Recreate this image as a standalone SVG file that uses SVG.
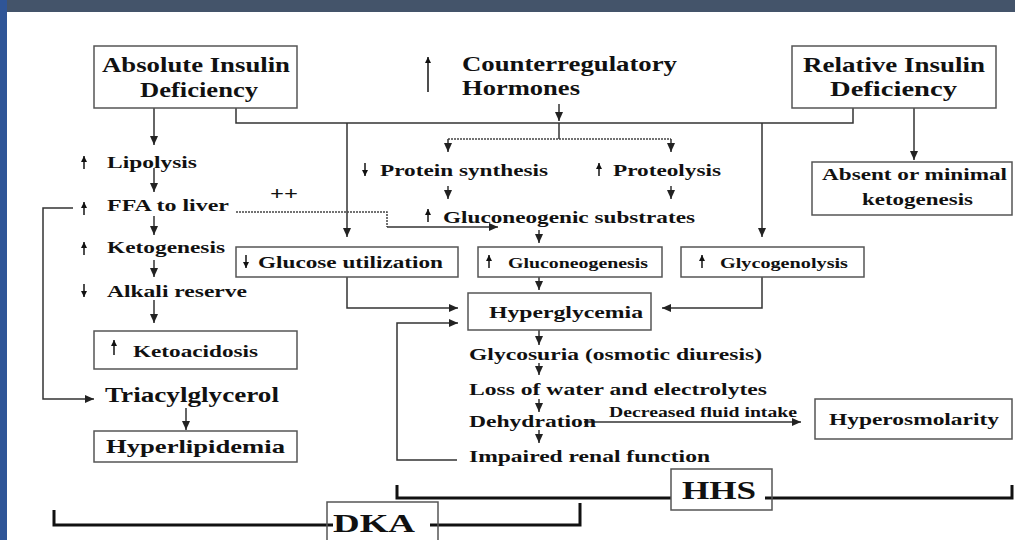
<svg xmlns="http://www.w3.org/2000/svg" width="1015" height="540" viewBox="0 0 1015 540">
<defs>
<style>
text{font-family:"Liberation Serif","Times New Roman",serif;font-weight:bold;fill:#111;}
.t17{font-size:17px;}
.t15{font-size:15px;}
.t21{font-size:21px;}
.box{fill:none;stroke:#555;stroke-width:1.5;}
.c{fill:none;stroke:#333;stroke-width:1.5;}
.d{fill:none;stroke:#444;stroke-width:1.5;stroke-dasharray:2,1;}
.s{fill:none;stroke:#222;stroke-width:1.6;}
.br{fill:none;stroke:#111;stroke-width:3;}
</style>
<marker id="ah" markerUnits="userSpaceOnUse" markerWidth="10" markerHeight="10" refX="9" refY="4" orient="auto">
<path d="M0,0 L9,4 L0,8 z" fill="#222"/>
</marker>
<marker id="sh" markerUnits="userSpaceOnUse" markerWidth="8" markerHeight="8" refX="6" refY="3" orient="auto">
<path d="M0,0 L6,3 L0,6 z" fill="#111"/>
</marker>
</defs>
<rect x="0" y="0" width="1015" height="540" fill="#fff"/>
<rect x="0" y="0" width="1015" height="12" fill="#44546a"/>
<rect x="0" y="0" width="7" height="540" fill="#2f5597"/>

<g id="connectors">
<path class="c" d="M154,108 V145" marker-end="url(#ah)"/>
<path class="c" d="M154,168 V192" marker-end="url(#ah)"/>
<path class="c" d="M154,216 V235" marker-end="url(#ah)"/>
<path class="c" d="M154,260 V277" marker-end="url(#ah)"/>
<path class="c" d="M154,300 V323" marker-end="url(#ah)"/>
<path class="c" d="M73,208 H43 V399 H94" marker-end="url(#ah)"/>
<path class="c" d="M186,408 V430" marker-end="url(#ah)"/>
<path class="c" d="M236,108 V123 H853 V108"/>
<path class="c" d="M347,123 V237" marker-end="url(#ah)"/>
<path class="c" d="M762,123 V237" marker-end="url(#ah)"/>
<path class="c" d="M559,104 V121" marker-end="url(#ah)"/>
<path class="c" d="M559,123 V139"/>
<path class="d" d="M448,139 H671"/>
<path class="c" d="M448,139 V152" marker-end="url(#ah)"/>
<path class="c" d="M671,139 V152" marker-end="url(#ah)"/>
<path class="c" d="M448,186 V199" marker-end="url(#ah)"/>
<path class="c" d="M671,186 V199" marker-end="url(#ah)"/>
<path class="d" d="M236,212 H387 V227"/>
<path class="c" d="M387,227 H498" marker-end="url(#ah)"/>
<path class="c" d="M539,230 V243" marker-end="url(#ah)"/>
<path class="c" d="M539,277 V290" marker-end="url(#ah)"/>
<path class="c" d="M347,277 V308 H458" marker-end="url(#ah)"/>
<path class="c" d="M762,277 V308 H662" marker-end="url(#ah)"/>
<path class="c" d="M457,460 H397 V323 H458" marker-end="url(#ah)"/>
<path class="c" d="M539,330 V345" marker-end="url(#ah)"/>
<path class="c" d="M539,363 V375" marker-end="url(#ah)"/>
<path class="c" d="M539,399 V412" marker-end="url(#ah)"/>
<path class="c" d="M539,430 V443" marker-end="url(#ah)"/>
<path class="c" d="M584,422 H801" marker-end="url(#ah)"/>
<path class="c" d="M914,108 V160" marker-end="url(#ah)"/>
<path class="br" d="M54,510 V525 H333 M430,525 H580 V503"/>
<path class="br" d="M397,485 V498 H671 M765,498 H1012 V485"/>
</g>

<g id="symbols">
<path class="s" d="M428,92 V57" marker-end="url(#sh)"/>
<path class="s" d="M84,169 V156" marker-end="url(#sh)"/>
<path class="s" d="M84,215 V202" marker-end="url(#sh)"/>
<path class="s" d="M84,255 V242" marker-end="url(#sh)"/>
<path class="s" d="M84,284 V297" marker-end="url(#sh)"/>
<path class="s" d="M114,355 V340" marker-end="url(#sh)"/>
<path class="s" d="M365,163 V176" marker-end="url(#sh)"/>
<path class="s" d="M599,176 V163" marker-end="url(#sh)"/>
<path class="s" d="M428,222 V209" marker-end="url(#sh)"/>
<path class="s" d="M246,255 V268" marker-end="url(#sh)"/>
<path class="s" d="M489,268 V255" marker-end="url(#sh)"/>
<path class="s" d="M702,268 V255" marker-end="url(#sh)"/>
</g>

<g id="absolute">
<rect class="box" x="94" y="46" width="203" height="62"/>
<text class="t21" x="102" y="72" textLength="188" lengthAdjust="spacingAndGlyphs">Absolute Insulin</text>
<text class="t21" x="140" y="97" textLength="118" lengthAdjust="spacingAndGlyphs">Deficiency</text>
</g>
<g id="counter">
<text style="font-size:20px" x="462" y="71" textLength="215" lengthAdjust="spacingAndGlyphs">Counterregulatory</text>
<text style="font-size:20px" x="462" y="95" textLength="118" lengthAdjust="spacingAndGlyphs">Hormones</text>
</g>
<g id="relative">
<rect class="box" x="792" y="46" width="204" height="62"/>
<text class="t21" x="803" y="72" textLength="182" lengthAdjust="spacingAndGlyphs">Relative Insulin</text>
<text class="t21" x="830" y="96" textLength="127" lengthAdjust="spacingAndGlyphs">Deficiency</text>
</g>
<g id="absent">
<rect class="box" x="812" y="162" width="200" height="53"/>
<text class="t17" x="822" y="180" textLength="185" lengthAdjust="spacingAndGlyphs">Absent or minimal</text>
<text class="t17" x="862" y="205" textLength="111" lengthAdjust="spacingAndGlyphs">ketogenesis</text>
</g>
<g id="lipolysis"><text class="t17" x="107" y="168" textLength="90" lengthAdjust="spacingAndGlyphs">Lipolysis</text></g>
<g id="ffa"><text class="t17" x="107" y="211" textLength="122" lengthAdjust="spacingAndGlyphs">FFA to liver</text>
<text style="font-size:18px" x="270" y="200" textLength="28" lengthAdjust="spacingAndGlyphs">++</text></g>
<g id="ketogenesis"><text class="t17" x="107" y="253" textLength="118" lengthAdjust="spacingAndGlyphs">Ketogenesis</text></g>
<g id="alkali"><text class="t17" x="107" y="297" textLength="140" lengthAdjust="spacingAndGlyphs">Alkali reserve</text></g>
<g id="ketoacidosis">
<rect class="box" x="94" y="331" width="203" height="38"/>
<text class="t17" x="133" y="357" textLength="125" lengthAdjust="spacingAndGlyphs">Ketoacidosis</text>
</g>
<g id="triacylglycerol"><text style="font-size:20px" x="105" y="402" textLength="174" lengthAdjust="spacingAndGlyphs">Triacylglycerol</text></g>
<g id="hyperlipidemia">
<rect class="box" x="94" y="431" width="203" height="31"/>
<text style="font-size:19px" x="106" y="453" textLength="179" lengthAdjust="spacingAndGlyphs">Hyperlipidemia</text>
</g>
<g id="protein"><text class="t17" x="380" y="176" textLength="168" lengthAdjust="spacingAndGlyphs">Protein synthesis</text></g>
<g id="proteolysis"><text class="t17" x="613" y="176" textLength="108" lengthAdjust="spacingAndGlyphs">Proteolysis</text></g>
<g id="substrates"><text class="t17" x="443" y="223" textLength="252" lengthAdjust="spacingAndGlyphs">Gluconeogenic substrates</text></g>
<g id="glucose-util">
<rect class="box" x="236" y="247" width="222" height="30"/>
<text class="t17" x="258" y="268" textLength="185" lengthAdjust="spacingAndGlyphs">Glucose utilization</text>
</g>
<g id="gluconeogenesis">
<rect class="box" x="478" y="247" width="184" height="30"/>
<text class="t15" x="508" y="268" textLength="140" lengthAdjust="spacingAndGlyphs">Gluconeogenesis</text>
</g>
<g id="glycogenolysis">
<rect class="box" x="681" y="247" width="183" height="30"/>
<text class="t15" x="720" y="268" textLength="128" lengthAdjust="spacingAndGlyphs">Glycogenolysis</text>
</g>
<g id="hyperglycemia">
<rect class="box" x="468" y="293" width="183" height="37"/>
<text class="t17" x="489" y="318" textLength="154" lengthAdjust="spacingAndGlyphs">Hyperglycemia</text>
</g>
<g id="glycosuria"><text class="t17" x="469" y="360" textLength="293" lengthAdjust="spacingAndGlyphs">Glycosuria (osmotic diuresis)</text></g>
<g id="loss"><text class="t17" x="469" y="395" textLength="298" lengthAdjust="spacingAndGlyphs">Loss of water and electrolytes</text></g>
<g id="dehydration"><text class="t17" x="469" y="427" textLength="127" lengthAdjust="spacingAndGlyphs">Dehydration</text>
<text style="font-size:14px" x="609" y="417" textLength="188" lengthAdjust="spacingAndGlyphs">Decreased fluid intake</text></g>
<g id="impaired"><text class="t17" x="469" y="462" textLength="241" lengthAdjust="spacingAndGlyphs">Impaired renal function</text></g>
<g id="hyperosmolarity">
<rect class="box" x="815" y="399" width="197" height="40"/>
<text class="t17" x="829" y="425" textLength="170" lengthAdjust="spacingAndGlyphs">Hyperosmolarity</text>
</g>
<g id="hhs">
<rect class="box" x="671" y="469" width="101" height="41"/>
<text style="font-size:26px" x="682" y="499" textLength="74" lengthAdjust="spacingAndGlyphs">HHS</text>
</g>
<g id="dka">
<rect class="box" x="327" y="502" width="111" height="45"/>
<text style="font-size:26px" x="333" y="532" textLength="82" lengthAdjust="spacingAndGlyphs">DKA</text>
</g>
</svg>
